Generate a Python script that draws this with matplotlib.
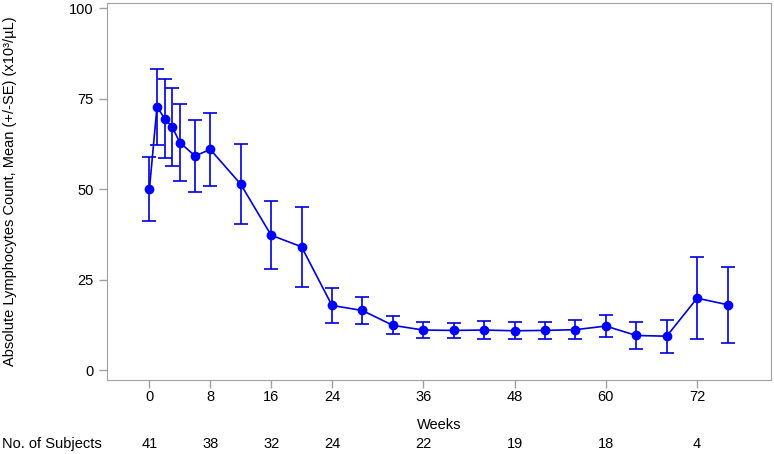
import numpy as np
import matplotlib.pyplot as plt

# data
weeks = [0, 1, 2, 3, 4, 6, 8, 12, 16, 20, 24, 28, 32, 36, 40, 44, 48, 52, 56, 60, 64, 68, 72, 76]
mean = [50.0, 72.8, 69.5, 67.2, 62.9, 59.2, 61.0, 51.4, 37.3, 34.1, 17.9, 16.5, 12.4, 11.1,
        11.0, 11.1, 10.9, 11.0, 11.2, 12.2, 9.6, 9.4, 19.9, 18.1]
se = [8.9, 10.5, 11.0, 10.9, 10.6, 9.9, 10.1, 11.0, 9.4, 11.0, 4.8, 3.7, 2.45, 2.1,
      2.15, 2.45, 2.35, 2.45, 2.55, 3.05, 3.7, 4.6, 11.4, 10.5]

tick_weeks = [0, 8, 16, 24, 36, 48, 60, 72]
n_subjects = [41, 38, 32, 24, 22, 19, 18, 4]

plt.rcParams['font.family'] = ['Liberation Sans Narrow', 'Liberation Sans', 'DejaVu Sans']
plt.rcParams['font.size'] = 10.5

fig = plt.figure(figsize=(7.74, 4.54), dpi=100)
ax = fig.add_axes([0.138, 0.163, 0.858, 0.830])

ax.errorbar(weeks, mean, yerr=se, color='#0000dd', lw=1.2, marker='o', ms=6,
            mfc='#0000ff', mec='#0000ff', capsize=4.8, capthick=1.2, elinewidth=1.2)

ax.set_xlim(-5.6, 81.7)
ax.set_ylim(-2.7, 101.4)
ax.set_xticks(tick_weeks)
ax.set_yticks([0, 25, 50, 75, 100])
for s in ax.spines.values():
    s.set_color('#a0a0a0')
ax.tick_params(colors='#a0a0a0', labelcolor='black', length=6, width=1)
ax.tick_params(axis='x', pad=1.5)

ax.set_ylabel('Absolute Lymphocytes Count, Mean (+/-SE) (x10³/µL)')
ax.yaxis.set_label_coords(-0.135, 0.5)
ax.set_xlabel('Weeks', labelpad=10)

trans = ax.get_xaxis_transform()
for w, n in zip(tick_weeks, n_subjects):
    ax.text(w, -0.17, str(n), transform=trans, ha='center', va='center')
fig.text(0.003, 0.022, 'No. of Subjects', ha='left', va='center')

fig.savefig('out.png', dpi=100)
